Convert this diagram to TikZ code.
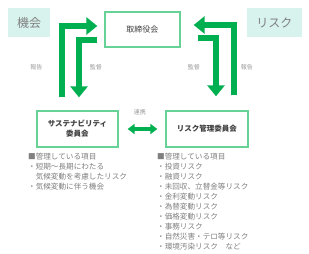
\documentclass[tikz,border=0pt]{standalone}
\usepackage{fontspec}
\setmainfont{Noto Sans CJK JP}
\usetikzlibrary{arrows.meta,calc}
\definecolor{arrgreen}{HTML}{00B050}
\definecolor{boxgreen}{HTML}{66D295}
\definecolor{tagfill}{HTML}{D8F2EE}
\definecolor{txtgray}{HTML}{808080}
\definecolor{lblgray}{HTML}{9A9A9A}
\definecolor{dark}{HTML}{404040}
\tikzset{
  tagbox/.style={fill=tagfill, text=txtgray, inner sep=0pt, font=\fontsize{12}{14}\selectfont},
  board/.style={draw=boxgreen, line width=1.3pt, fill=white, text=dark, inner sep=0pt, minimum width=75pt, minimum height=35pt, font=\fontsize{8}{10}\selectfont},
  cmte/.style={draw=boxgreen, line width=1.3pt, fill=white, text=dark, inner sep=0pt, align=center, minimum width=81pt, minimum height=36pt, font=\bfseries\fontsize{7.5}{10}\selectfont},
  bigarrow/.style={draw=arrgreen, line width=6pt, line join=miter, -{Triangle[length=11pt,width=17pt]}},
  linkarrow/.style={draw=arrgreen, line width=3.5pt, {Triangle[length=7pt,width=10pt]}-{Triangle[length=7pt,width=10pt]}},
  lbl/.style={text=lblgray, inner sep=0pt, font=\fontsize{6}{7}\selectfont},
  listtxt/.style={text=txtgray, inner sep=0pt, align=left, anchor=north west, font=\fontsize{7.6}{10}\selectfont}
}
\begin{document}
\begin{tikzpicture}[x=1pt,y=-1pt]
\useasboundingbox (0,0) rectangle (309,254);
\fill[white] (0,0) rectangle (309,254);
\node[tagbox, minimum width=42pt, minimum height=29pt] (kikai) at (29,22.5) {機会};
\node[tagbox, minimum width=55pt, minimum height=29pt] (risk) at (274.5,22.5) {リスク};
\node[board] (board) at (142.5,29.5) {取締役会};
\node[cmte] (sus) at (77.5,129) {サステナビリティ\\委員会};
\node[cmte, minimum width=82pt] (rmc) at (207,129) {リスク管理委員会};
% left arrows
\coordinate (lo) at ($(sus.north)+(-15.5,-13)$);
\draw[bigarrow] (lo) |- ($(board.west)+(-7,-3.5)$);
\coordinate (li) at ($(board.west)+(-7,10.5)$);
\draw[bigarrow] (li) -| ($(sus.north)+(1.5,-13)$);
% right arrows
\coordinate (ro) at ($(rmc.north)+(27,-15)$);
\draw[bigarrow] (ro) |- ($(board.east)+(13,-4.5)$);
\coordinate (ri) at ($(board.east)+(17,8.5)$);
\draw[bigarrow] (ri) -| ($(rmc.north)+(9,-14)$);
% link
\draw[linkarrow] ($(sus.east)+(9,0)$) -- ($(rmc.west)+(-8,0)$);
% labels
\node[lbl] (hl) at (36.5,67) {報告};
\node[lbl] (kl) at (96,67) {監督};
\node[lbl] (kr) at (194,67) {監督};
\node[lbl] (hr) at (247,67) {報告};
\node[lbl] (rk) at (140,112) {連携};
% lists
\node[listtxt] (llist) at (28,152.5) {■管理している項目\\・短期～長期にわたる\\　気候変動を考慮したリスク\\・気候変動に伴う機会};
\node[listtxt] (rlist) at (157,152.5) {■管理している項目\\・投資リスク\\・融資リスク\\・未回収、立替金等リスク\\・金利変動リスク\\・為替変動リスク\\・価格変動リスク\\・事務リスク\\・自然災害・テロ等リスク\\・環境汚染リスク　など};
\end{tikzpicture}
\end{document}
